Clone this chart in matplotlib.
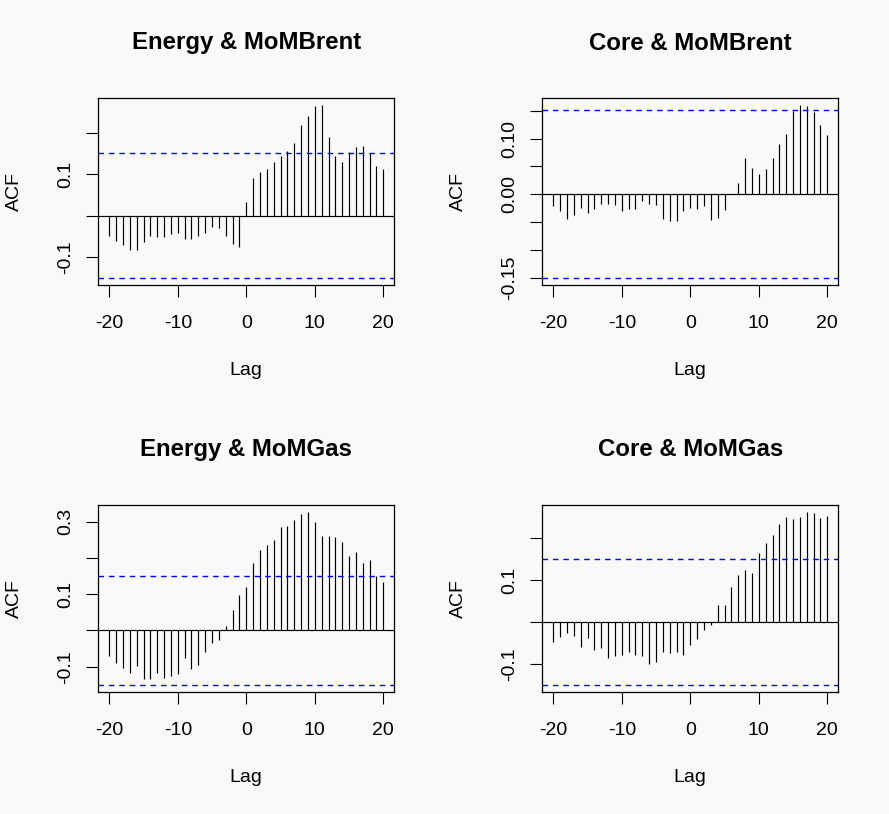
import numpy as np
import matplotlib
matplotlib.use('Agg')
import matplotlib.pyplot as plt

plt.rcParams['font.family'] = ['Liberation Sans', 'DejaVu Sans']

# ---- Data ----
lags = np.arange(-20, 21)
ci = 0.1515

energy_brent = [-0.049, -0.061, -0.070, -0.082, -0.082, -0.063, -0.049, -0.051, -0.051, -0.045,
                -0.042, -0.056, -0.056, -0.049, -0.042, -0.027, -0.030, -0.049, -0.068, -0.075,
                0.032, 0.090, 0.106, 0.114, 0.130, 0.145, 0.157, 0.176, 0.218, 0.242,
                0.265, 0.267, 0.190, 0.145, 0.130, 0.154, 0.166, 0.169, 0.151, 0.121, 0.114]
core_brent = [-0.021, -0.031, -0.044, -0.037, -0.024, -0.033, -0.026, -0.017, -0.017, -0.019,
              -0.031, -0.026, -0.026, -0.013, -0.017, -0.020, -0.044, -0.049, -0.049, -0.031,
              -0.024, -0.026, -0.022, -0.046, -0.042, -0.029, 0.0005, 0.020, 0.065, 0.047,
              0.037, 0.046, 0.065, 0.090, 0.108, 0.150, 0.160, 0.159, 0.148, 0.125, 0.107]
energy_gas = [-0.070, -0.089, -0.103, -0.117, -0.098, -0.133, -0.133, -0.117, -0.131, -0.125,
              -0.120, -0.075, -0.106, -0.095, -0.059, -0.034, -0.026, 0.012, 0.056, 0.098,
              0.120, 0.186, 0.222, 0.236, 0.249, 0.285, 0.288, 0.305, 0.321, 0.327,
              0.299, 0.260, 0.260, 0.258, 0.244, 0.205, 0.216, 0.186, 0.194, 0.150, 0.133]
core_gas = [-0.048, -0.037, -0.027, -0.034, -0.060, -0.039, -0.067, -0.063, -0.087, -0.082,
            -0.079, -0.072, -0.079, -0.082, -0.101, -0.096, -0.072, -0.075, -0.072, -0.079,
            -0.056, -0.041, -0.020, -0.008, 0.040, 0.040, 0.083, 0.113, 0.125, 0.117,
            0.165, 0.189, 0.208, 0.234, 0.251, 0.246, 0.251, 0.263, 0.260, 0.248, 0.253]

titles = ['Energy & MoMBrent', 'Core & MoMBrent', 'Energy & MoMGas', 'Core & MoMGas']
series = [energy_brent, core_brent, energy_gas, core_gas]
yticks = [[-0.1, 0.0, 0.1, 0.2],
          [-0.15, -0.10, -0.05, 0.0, 0.05, 0.10, 0.15],
          [-0.1, 0.0, 0.1, 0.2, 0.3],
          [-0.1, 0.0, 0.1, 0.2]]
ylabels = [['-0.1', '', '0.1', ''],
           ['-0.15', '', '', '0.00', '', '0.10', ''],
           ['-0.1', '', '0.1', '', '0.3'],
           ['-0.1', '', '0.1', '']]
xticks = [-20, -10, 0, 10, 20]

# ---- Figure ----
W, H = 889, 814
bg = '#f9f9f9'
fig = plt.figure(figsize=(W / 100, H / 100), dpi=100, facecolor=bg)

# panel boxes in pixels: left, top, width, height
boxes = [(98.3, 98.3, 296, 187), (542.3, 98.3, 296, 187),
         (98.3, 505, 296, 187.3), (542.3, 505, 296, 187.3)]

for i in range(4):
    l, t, w, h = boxes[i]
    ax = fig.add_axes([l / W, 1 - (t + h) / H, w / W, h / H])
    ax.set_facecolor(bg)
    vals = np.array(series[i])
    ax.vlines(lags, 0, vals, color='black', lw=0.85)
    ax.axhline(0, color='black', lw=0.85)
    for c in (ci, -ci):
        ax.axhline(c, color='#0000ff', lw=1.0, ls=(0, (4, 3.5)))

    lo = min(vals.min(), -ci); hi = max(vals.max(), ci)
    pad = 0.04 * (hi - lo)
    ax.set_ylim(lo - pad, hi + pad)
    ax.set_xlim(-20 - 1.6, 20 + 1.6)

    ax.set_xticks(xticks)
    ax.set_xticklabels([str(x) for x in xticks])
    ax.set_yticks(yticks[i])
    ax.set_yticklabels(ylabels[i], rotation=90, va='center')
    ax.tick_params(length=8.6, width=0.8, labelsize=14, pad=12.5, direction='out')
    ax.tick_params(axis='y', pad=9)
    for s in ax.spines.values():
        s.set_linewidth(0.9)

    cx = (l + w / 2) / W
    ty = 43 if i < 2 else 449
    fig.text(cx, 1 - ty / H, titles[i], ha='center', va='center',
             fontsize=17.3, fontweight='bold')
    fig.text(cx, 1 - (t + h + 85) / H, 'Lag', ha='center', va='center', fontsize=14)
    fig.text((l - 83.6) / W, 1 - (t + h / 2) / H, 'ACF', ha='center', va='center',
             rotation=90, fontsize=14)

fig.savefig('out.png', dpi=100, facecolor=bg)
